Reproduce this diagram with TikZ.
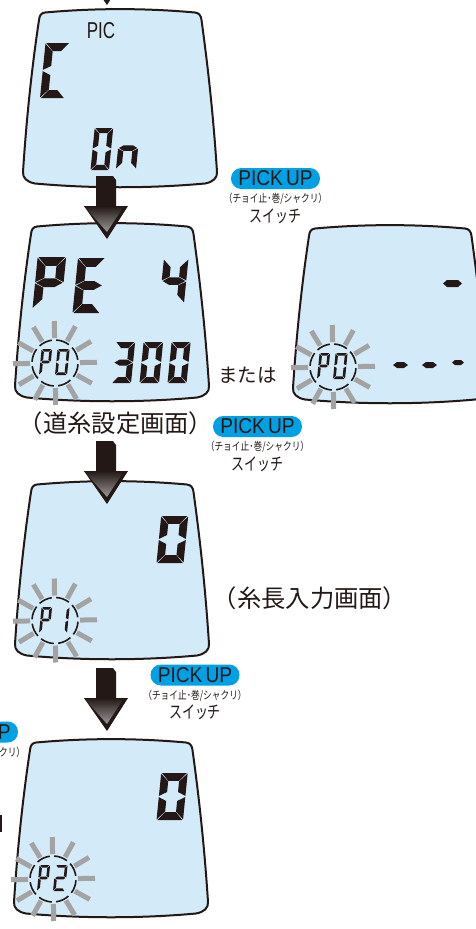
\documentclass[tikz,border=0pt]{standalone}
\usepackage{graphicx}
\usepackage{fontspec}
\setmainfont{Liberation Sans}
\newfontfamily\jpfont{Noto Sans CJK JP}
\definecolor{ink}{HTML}{231815}
\definecolor{lcdblue}{HTML}{D3EBF9}
\definecolor{raygray}{HTML}{A3A3A3}
\definecolor{pillblue}{HTML}{00A0E4}
\tikzset{
  lcdframe/.style={draw=ink,line width=2pt,fill=lcdblue,line join=round},
  rayline/.style={draw=raygray,line width=5pt},
  ringarc/.style={draw=ink,line width=1.6pt},
  pill/.style={fill=pillblue,rounded corners=10.4pt},
  txt/.style={inner sep=0pt,outer sep=0pt,text=ink},
}
% 7-segment: local height upwards as negative y
\def\lcdsega{(\dG*1.3,-\dH) -- (\dW-\dG*1.3,-\dH) -- (\dW-\dT,-\dH+\dT) -- (\dT,-\dH+\dT) -- cycle}
\def\lcdsegb{(\dW,-\dH+\dG) -- (\dW,-\dH/2-\dG) -- (\dW-\dT,-\dH/2-\dT/2-\dG) -- (\dW-\dT,-\dH+\dT+\dG) -- cycle}
\def\lcdsegc{(\dW,-\dG) -- (\dW,-\dH/2+\dG) -- (\dW-\dT,-\dH/2+\dT/2+\dG) -- (\dW-\dT,-\dT-\dG) -- cycle}
\def\lcdsegd{(\dG*1.3,0) -- (\dW-\dG*1.3,0) -- (\dW-\dT,-\dT) -- (\dT,-\dT) -- cycle}
\def\lcdsege{(0,-\dG) -- (0,-\dH/2+\dG) -- (\dT,-\dH/2+\dT/2+\dG) -- (\dT,-\dT-\dG) -- cycle}
\def\lcdsegf{(0,-\dH+\dG) -- (0,-\dH/2-\dG) -- (\dT,-\dH/2-\dT/2-\dG) -- (\dT,-\dH+\dT+\dG) -- cycle}
\def\lcdsegg{(\dG*1.5,-\dH/2) -- (\dT,-\dH/2-\dT/2) -- (\dW-\dT,-\dH/2-\dT/2) -- (\dW-\dG*1.5,-\dH/2) -- (\dW-\dT,-\dH/2+\dT/2) -- (\dT,-\dH/2+\dT/2) -- cycle}
% x, base y, W, H, T, segments
\newcommand{\lcddigit}[6]{%
  \begin{scope}[shift={(#1,#2)},xslant=0.1]
    \def\dW{#3}\def\dH{#4}\def\dT{#5}\def\dG{0.6}
    \foreach \sgm in {#6}{\fill[ink] \csname lcdseg\sgm\endcsname;}
  \end{scope}}
% frame with offset
\newcommand{\lcdframe}[2]{%
  \begin{scope}[shift={(#1,#2)}]
    \draw[lcdframe] (23,172) .. controls (27,110) and (33,60) .. (39,20)
      .. controls (39.5,15.5) and (41,13) .. (45,12.5)
      .. controls (95,8) and (145,8) .. (195,12.5)
      .. controls (199,13) and (201,15.5) .. (201.5,20)
      .. controls (207,60) and (213,110) .. (217,172)
      .. controls (217.5,178) and (213,182) .. (205,183.5)
      .. controls (150,188.5) and (90,188.5) .. (35,183.5)
      .. controls (27,182) and (22.5,178) .. (23,172) -- cycle;
  \end{scope}}
% ring of rays at centre, with label digits drawn separately
\newcommand{\lcdring}[2]{%
  \begin{scope}[shift={(#1,#2)}]
    \foreach \k in {0,...,11}{
      \pgfmathsetmacro{\ang}{1+30*\k}
      \draw[rayline] ({25*cos(\ang)},{-25*sin(\ang)}) -- ({42*cos(\ang)},{-42*sin(\ang)});
    }
    \foreach \k in {0,...,7}{
      \pgfmathsetmacro{\aa}{8+45*\k}
      \pgfmathsetmacro{\ab}{42+45*\k}
      \draw[ringarc] ({23*cos(\aa)},{-23*sin(\aa)}) arc[start angle={\aa},end angle={\ab},radius=23pt];
    }
  \end{scope}}
\newcommand{\pgarrow}[1]{%
  \begin{scope}[shift={(0,#1)}]
    \fill[ink] (96,176) -- (113,176) -- (116,180) -- (116,210) -- (96,210) -- cycle;
    \fill[ink] (84,206) -- (128,206) -- (107,239) -- cycle;
    \shade[top color=ink,bottom color=black!40] (84,206) -- (124,206) -- (107,232) -- cycle;
  \end{scope}}
\newcommand{\pickup}[3]{% centre x, centre y, name
  \fill[pill] ({#1-44.5},{#2-10.5}) rectangle ({#1+44.5},{#2+10.5});
  \node[txt] (#3a) at (#1,#2) {\fontsize{21.5}{22}\selectfont\scalebox{0.89}[1]{PICK\hspace{-2.5pt} UP}};
  \node[txt] (#3b) at (#1,{#2+20.5}) {\jpfont\fontsize{11}{12}\selectfont\scalebox{0.79}[1]{（チョイ止･巻/シャクリ）}};
  \node[txt] (#3c) at (#1,{#2+37.5}) {\jpfont\fontsize{17.5}{18}\selectfont\scalebox{0.74}[1]{スイッチ}};
}
\begin{document}
\begin{tikzpicture}[x=1pt,y=-1pt]
\useasboundingbox (0,0) rectangle (476,929);
\clip (0,0) rectangle (476,929);
% frames
\lcdframe{0}{0}
\lcdframe{-8}{214}
\lcdframe{270}{216}
\lcdframe{-8}{472}
\lcdframe{-9}{730}
% screen 1
\node[txt] (pic) at (101,30.5) {\fontsize{23}{23}\selectfont\scalebox{0.74}[1]{PIC}};
\lcddigit{40}{98}{24.5}{55}{8}{a,f,e,d}
\lcddigit{90.5}{170}{18.5}{42}{5.2}{a,b,c,d,e,f}
\lcddigit{116}{169}{20}{42}{5.5}{g,c,e}
% screen 2
\lcddigit{32.5}{308.5}{28.5}{51.5}{8.8}{a,b,f,g,e}
\lcddigit{72.5}{313}{27.5}{55}{8.8}{a,f,g,e,d}
\lcddigit{159.5}{303}{24.5}{44}{7.5}{f,g,b,c}
\lcddigit{111.5}{383}{19.5}{41}{6}{a,b,c,d,g}
\lcddigit{139.5}{383}{19.5}{41}{6}{a,b,c,d,e,f}
\lcddigit{167.5}{383}{19}{41}{6}{a,b,c,d,e,f}
\lcdring{55}{363}
\lcddigit{39}{375}{10.5}{26}{2.6}{a,b,f,g,e}
\lcddigit{55}{375}{12}{26}{2.6}{a,b,c,d,e,f}
% alt screen
\fill[ink] (443,283.5) -- (447,280) -- (458,280) -- (462,283.5) -- (458,287) -- (447,287) -- cycle;
\fill[ink] (393,365) -- (397,362) -- (404,362) -- (408,365) -- (404,368) -- (397,368) -- cycle;
\fill[ink] (422,365) -- (426,362) -- (433,362) -- (437,365) -- (433,368) -- (426,368) -- cycle;
\fill[ink] (452,362.5) -- (455,360) -- (461,360) -- (464,362.5) -- (461,365) -- (455,365) -- cycle;
\lcdring{333}{367}
\lcddigit{317}{379}{10.5}{26}{2.6}{a,b,f,g,e}
\lcddigit{333}{379}{12}{26}{2.6}{a,b,c,d,e,f}
% screen 3
\lcddigit{156.5}{563}{27}{47}{7.8}{a,b,c,d,e,f}
\lcdring{55}{620.5}
\lcddigit{39}{633}{10.5}{26}{2.6}{a,b,f,g,e}
\lcddigit{55}{633}{12}{26}{2.6}{b,c}
% screen 4
\lcddigit{156.5}{820}{26.5}{47}{7.8}{a,b,c,d,e,f}
\lcdring{53}{879}
\lcddigit{37}{891}{10.5}{26}{2.6}{a,b,f,g,e}
\lcddigit{53}{891}{12}{26}{2.6}{a,b,g,e,d}
% arrows
\pgarrow{-234}
\pgarrow{0}
\pgarrow{265}
\pgarrow{492}
% switches
\pickup{275.5}{178.5}{swa}
\pickup{257.5}{426.5}{swb}
\pickup{195}{675}{swc}
\pickup{-26.5}{732}{swd}
% captions
\node[txt] (capa) at (116,423) {\jpfont\fontsize{24.3}{25}\selectfont （道糸設定画面）};
\node[txt] (capb) at (310,598) {\jpfont\fontsize{24.3}{25}\selectfont （糸長入力画面）};
\node[txt] (capc) at (247.5,375) {\jpfont\fontsize{19.5}{20}\selectfont または};
\fill[ink] (0,815) rectangle (1.7,832);
\end{tikzpicture}
\end{document}
